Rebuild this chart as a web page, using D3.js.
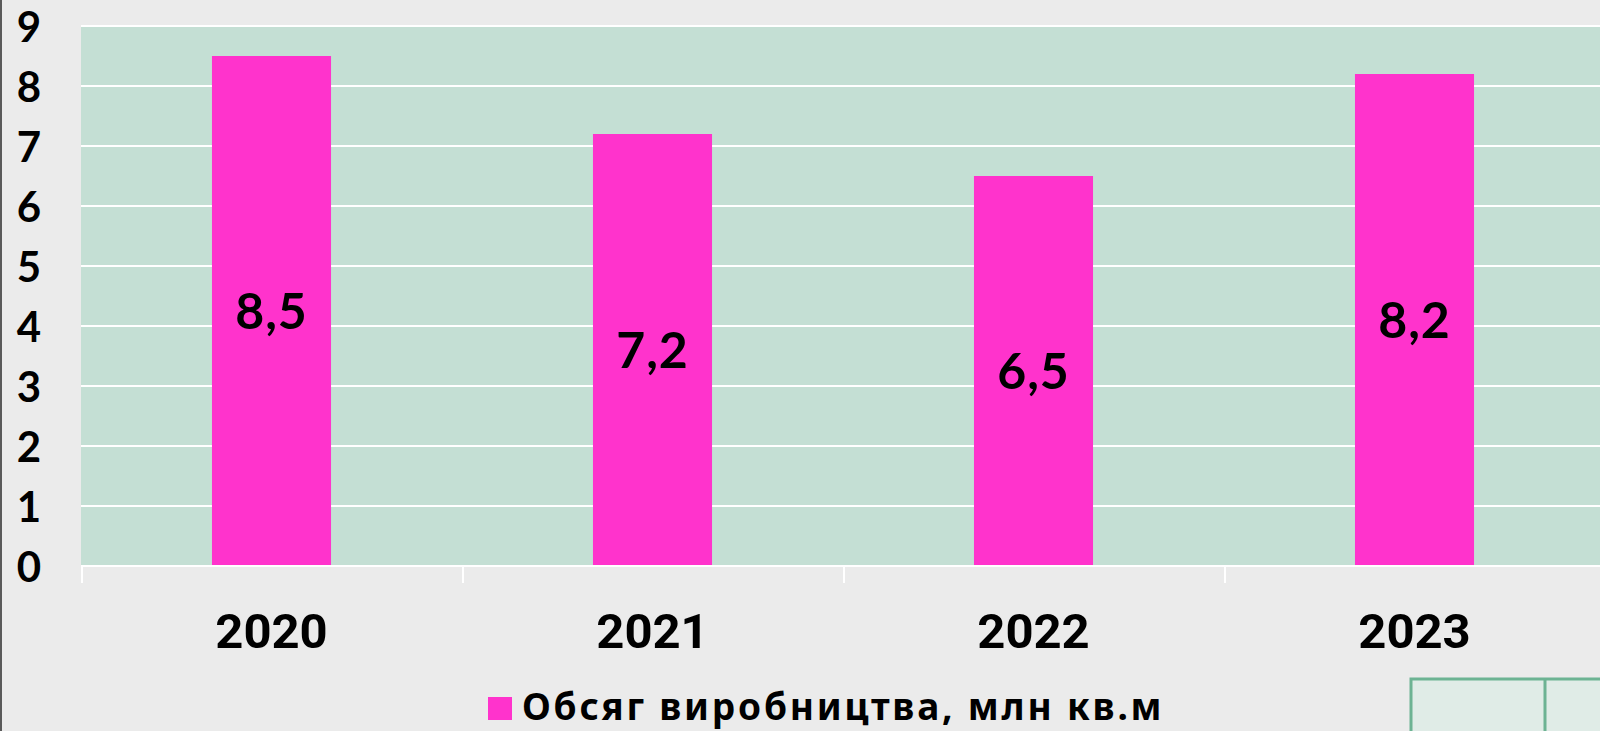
<!DOCTYPE html>
<html>
<head>
<meta charset="utf-8">
<script src="https://cdn.jsdelivr.net/npm/d3@7"></script>
<style>
  body { margin: 0; background: #ebebeb; }
  svg { display: block; }
</style>
</head>
<body>
<svg width="1600" height="731"></svg>
<script>
// chart data
var years = ["2020", "2021", "2022", "2023"];
var values = [8.5, 7.2, 6.5, 8.2];
var valueLabels = ["8,5", "7,2", "6,5", "8,2"];
var yTicks = [0, 1, 2, 3, 4, 5, 6, 7, 8, 9];
var seriesName = "Обсяг виробництва, млн кв.м";

var svg = d3.select("svg"),
    margin = {top: 26, right: -5, bottom: 165, left: 81},
    width = +svg.attr("width") - margin.left - margin.right,
    height = +svg.attr("height") - margin.top - margin.bottom;

svg.append("rect")
    .attr("width", 1600)
    .attr("height", 731)
    .attr("fill", "#ebebeb");

// left border of the slide
svg.append("rect")
    .attr("x", 0)
    .attr("y", 0)
    .attr("width", 2)
    .attr("height", 731)
    .attr("fill", "#5a5a5a");

var x = d3.scaleBand()
    .domain(years)
    .range([0, width]);
var y = d3.scaleLinear()
    .domain([0, 9])
    .range([height, 0]);

var focus = svg.append("g")
    .attr("transform", "translate(" + margin.left + "," + margin.top + ")");

focus.append("rect")
    .attr("width", width)
    .attr("height", height)
    .attr("fill", "#c4dfd4");

// gridlines
focus.selectAll(".grid")
    .data(yTicks)
    .enter()
    .append("line")
    .attr("class", "grid")
    .attr("x1", 0)
    .attr("x2", width)
    .attr("y1", function(d) { return y(d); })
    .attr("y2", function(d) { return y(d); })
    .style("stroke", "#ffffff")
    .style("stroke-width", 2);

// bars
var barW = x.bandwidth() * 0.3125;
focus.selectAll(".bar")
    .data(values)
    .enter()
    .append("rect")
    .attr("class", "bar")
    .attr("x", function(d, i) { return x(years[i]) + (x.bandwidth() - barW) / 2; })
    .attr("y", function(d) { return y(d); })
    .attr("width", barW)
    .attr("height", function(d) { return y(0) - y(d); })
    .style("fill", "#ff33cc");

// value labels in the middle of each bar
focus.selectAll(".val")
    .data(values)
    .enter()
    .append("text")
    .attr("class", "val")
    .attr("x", function(d, i) { return x(years[i]) + x.bandwidth() / 2; })
    .attr("y", function(d) { return (y(d) + y(0)) / 2; })
    .attr("dy", "0.36em")
    .attr("text-anchor", "middle")
    .style("font-family", "'Century Gothic', Lato, sans-serif")
    .style("font-weight", "bold")
    .style("font-size", "50px")
    .style("letter-spacing", "1px")
    .style("fill", "#000")
    .text(function(d, i) { return valueLabels[i]; });

// x axis: baseline, tick marks and year labels
focus.append("line")
    .attr("x1", 0)
    .attr("x2", width)
    .attr("y1", y(0))
    .attr("y2", y(0))
    .style("stroke", "#ffffff")
    .style("stroke-width", 2);

focus.selectAll(".xtick")
    .data(years)
    .enter()
    .append("line")
    .attr("class", "xtick")
    .attr("x1", function(d) { return x(d) + 1; })
    .attr("x2", function(d) { return x(d) + 1; })
    .attr("y1", y(0))
    .attr("y2", y(0) + 17)
    .style("stroke", "#ffffff")
    .style("stroke-width", 2);

focus.selectAll(".xlab")
    .data(years)
    .enter()
    .append("text")
    .attr("class", "xlab")
    .attr("x", function(d) { return x(d) + x.bandwidth() / 2; })
    .attr("y", y(0) + 82)
    .attr("text-anchor", "middle")
    .style("font-family", "Roboto, Arial, sans-serif")
    .style("font-weight", "bold")
    .style("font-size", "49px")
    .style("fill", "#000")
    .text(function(d) { return d; });

// y axis labels
var yAxis = d3.axisLeft(y).tickValues(yTicks).tickSize(0).tickPadding(0);
var yg = focus.append("g")
    .attr("transform", "translate(-52,0)")
    .call(yAxis);
yg.select(".domain").remove();
yg.selectAll("text")
    .attr("text-anchor", "middle")
    .attr("dy", "0.36em")
    .style("font-family", "'Century Gothic', Lato, sans-serif")
    .style("font-weight", "bold")
    .style("font-size", "42px")
    .style("fill", "#000");

// legend
var legend = svg.append("g");
legend.append("rect")
    .attr("x", 488)
    .attr("y", 697)
    .attr("width", 24)
    .attr("height", 23)
    .style("fill", "#ff33cc");
legend.append("text")
    .attr("x", 522)
    .attr("y", 720)
    .style("font-family", "'Century Gothic', 'Noto Sans', sans-serif")
    .style("font-weight", "bold")
    .style("font-size", "37px")
    .style("letter-spacing", "2.8px")
    .style("fill", "#000")
    .text(seriesName);

// table corner at bottom right
svg.append("rect")
    .attr("x", 1411)
    .attr("y", 679)
    .attr("width", 260)
    .attr("height", 80)
    .style("fill", "#e0ece7")
    .style("stroke", "#6db393")
    .style("stroke-width", 3);
svg.append("line")
    .attr("x1", 1545)
    .attr("x2", 1545)
    .attr("y1", 679)
    .attr("y2", 731)
    .style("stroke", "#6db393")
    .style("stroke-width", 3);
</script>
</body>
</html>
